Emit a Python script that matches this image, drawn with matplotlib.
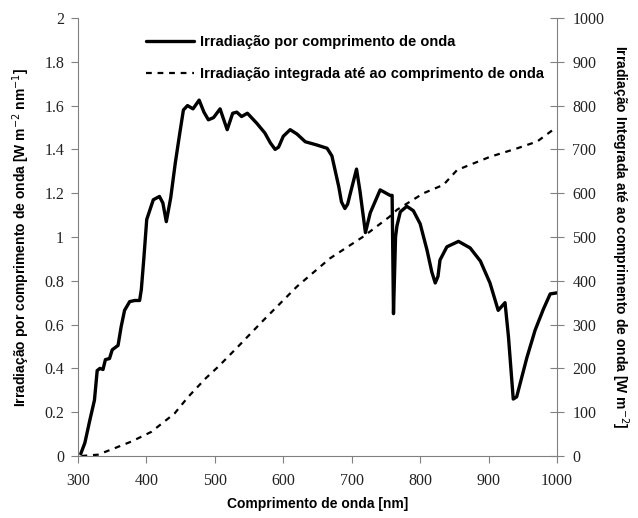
import matplotlib
matplotlib.use("Agg")
import matplotlib.pyplot as plt

# spectral irradiance (left axis)
wl_spec = [304, 310, 317, 324, 328, 332, 336.5, 340, 346, 350, 358.5, 363, 368, 375.5, 383,
           390, 392.5, 396, 400.4, 410, 419, 424, 429, 435.5, 442, 448, 454, 460, 468, 477,
           484, 490.5, 498, 507.6, 513, 518, 526, 532, 539, 547.5, 561, 573, 581, 588, 593,
           600, 610, 620, 632, 649, 664, 671, 681, 685, 690, 694, 698, 707, 712, 720,
           727, 741.5, 756, 759, 761, 764, 766, 771, 780.5, 790, 800, 810, 817, 822, 826,
           829, 839, 856, 873, 888, 902, 914, 924, 929, 936, 941, 956, 968, 980, 990, 1000]
irr_spec = [0.01, 0.06, 0.16, 0.255, 0.39, 0.40, 0.395, 0.44, 0.445, 0.485, 0.505, 0.59, 0.665, 0.705, 0.71,
            0.71, 0.76, 0.895, 1.08, 1.17, 1.185, 1.155, 1.07, 1.18, 1.335, 1.46, 1.58, 1.60, 1.585, 1.625,
            1.57, 1.535, 1.545, 1.585, 1.535, 1.49, 1.565, 1.57, 1.55, 1.565, 1.52, 1.475, 1.43, 1.40, 1.41,
            1.46, 1.49, 1.47, 1.435, 1.42, 1.405, 1.37, 1.23, 1.16, 1.13, 1.15, 1.20, 1.31, 1.21, 1.02,
            1.11, 1.215, 1.19, 1.19, 0.65, 1.00, 1.05, 1.115, 1.14, 1.12, 1.06, 0.94, 0.84, 0.79, 0.82,
            0.895, 0.955, 0.98, 0.95, 0.89, 0.79, 0.665, 0.70, 0.545, 0.26, 0.27, 0.45, 0.575, 0.67, 0.74, 0.745]

# integrated irradiance (right axis)
wl_int = [305, 329, 349, 378, 407, 441, 461, 487, 505, 534, 571, 620, 668, 717, 755,
          766, 805, 834, 854, 902, 941, 971, 997]
irr_int = [0, 3, 15, 33, 55, 97, 135, 178, 204, 250, 310, 387, 451, 501, 546,
           562, 600, 619, 653, 683, 702, 718, 748]

serif = "Liberation Serif"
sans = "Liberation Sans"
grey = "#808080"

fig = plt.figure(figsize=(6.38, 5.18), dpi=100)
ax = fig.add_axes([0.1223, 0.1197, 0.7508, 0.8456])
ax2 = ax.twinx()

l1, = ax.plot(wl_spec, irr_spec, color="black", lw=2.4,
              solid_joinstyle="round", solid_capstyle="round")
l2, = ax2.plot(wl_int, irr_int, color="black", lw=1.6, ls=(0, (2.6, 2.6)))

ax.set_xlim(300, 1000)
ax.set_ylim(0, 2)
ax2.set_ylim(0, 1000)
ax.set_xticks(range(300, 1001, 100))
ax.set_yticks([0, 0.2, 0.4, 0.6, 0.8, 1, 1.2, 1.4, 1.6, 1.8, 2])
ax.set_yticklabels(["0", "0.2", "0.4", "0.6", "0.8", "1", "1.2", "1.4", "1.6", "1.8", "2"])
ax2.set_yticks(range(0, 1001, 100))

for a in (ax, ax2):
    a.spines["top"].set_visible(False)
    for s in a.spines.values():
        s.set_color(grey)
ax.spines["right"].set_visible(False)
ax2.spines["left"].set_visible(False)
ax2.spines["bottom"].set_visible(False)

ax.tick_params(axis="both", direction="out", length=5, color=grey, labelsize=11.5,
               labelcolor="#222222", pad=5)
ax2.tick_params(axis="y", direction="inout", length=10, color=grey, labelsize=11.5,
                labelcolor="#222222", pad=6)
for lab in ax.get_xticklabels() + ax.get_yticklabels() + ax2.get_yticklabels():
    lab.set_family(serif)
ax.tick_params(axis="x", pad=7)

ax.set_xlabel("Comprimento de onda [nm]", family=sans, weight="bold", fontsize=10, labelpad=6)
ax.set_ylabel("Irradiação por comprimento de onda [W m$^{-2}$ nm$^{-1}$]",
              family=sans, weight="bold", fontsize=10, labelpad=9)
ax2.set_ylabel("Irradiação Integrada até ao comprimento de onda [W m$^{-2}$]",
               family=sans, weight="bold", fontsize=10, rotation=-90, labelpad=19)

leg = ax.legend([l1, l2], ["Irradiação por comprimento de onda",
                           "Irradiação integrada até ao comprimento de onda"],
                loc="upper left", bbox_to_anchor=(0.115, 0.99), frameon=False,
                handlelength=3.3, handletextpad=0.4, labelspacing=1.2,
                prop={"family": sans, "weight": "bold", "size": 10.5})

fig.savefig("out.png", dpi=100)
